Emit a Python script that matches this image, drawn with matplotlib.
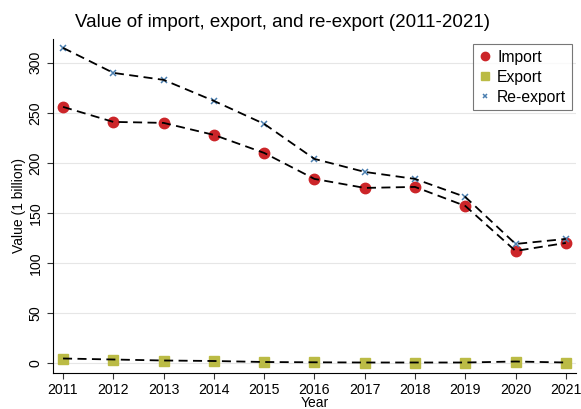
import matplotlib
matplotlib.use("Agg")
import matplotlib.pyplot as plt

# data
years = [2011, 2012, 2013, 2014, 2015, 2016, 2017, 2018, 2019, 2020, 2021]
import_vals = [256, 241, 240, 228, 210, 184, 175, 176, 157, 112, 120]
export_vals = [4.5, 3.5, 2.5, 2, 1, 0.7, 0.5, 0.5, 0.5, 1.5, 0.5]
reexport_vals = [315, 290, 283, 262, 239, 204, 191, 184, 166, 119, 124]
y_ticks = [0, 50, 100, 150, 200, 250, 300]

plt.rcParams['font.family'] = ['Liberation Sans', 'DejaVu Sans']

fig = plt.figure(figsize=(5.81, 4.09), dpi=100)
ax = fig.add_axes([0.0912, 0.088, 0.9, 0.817])

# markers first, dashed connecting lines on top
ax.plot(years, import_vals, 'o', color='#cc2529', markersize=7.5, label='Import', zorder=2)
ax.plot(years, export_vals, 's', color='#bbbb45', markersize=7, label='Export', zorder=2)
ax.plot(years, reexport_vals, 'x', color='#4a7fb0', markersize=4, markeredgewidth=1.1,
        label='Re-export', zorder=2)
for vals in (import_vals, export_vals, reexport_vals):
    ax.plot(years, vals, color='black', linestyle=(0, (5, 3)), linewidth=1.3, zorder=3)

ax.set_xlim(2010.8, 2021.2)
ax.set_ylim(-10, 324)
ax.set_xticks(years)
ax.set_yticks(y_ticks)
ax.tick_params(axis='both', labelsize=10.2, length=4, width=0.8, color='#333333')
plt.setp(ax.get_yticklabels(), rotation=90, va='center')

ax.yaxis.grid(True, color='#e6e6e6', linewidth=0.8)
ax.set_axisbelow(True)
ax.spines['top'].set_visible(False)
ax.spines['right'].set_visible(False)

ax.set_xlabel('Year', fontsize=10, labelpad=-1)
ax.set_ylabel('Value (1 billion)', fontsize=10, labelpad=2)
fig.suptitle('Value of import, export, and re-export (2011-2021)', fontsize=13.5, x=0.487, y=0.965)

leg = ax.legend(loc='upper right', bbox_to_anchor=(1.007, 1.008), fontsize=11.3, frameon=True,
                fancybox=False, edgecolor='#555555', handletextpad=0.3, handlelength=0.9,
                borderpad=0.35, labelspacing=0.32, markerscale=0.8)
leg.get_frame().set_linewidth(0.8)

fig.savefig('out.png', dpi=100)
